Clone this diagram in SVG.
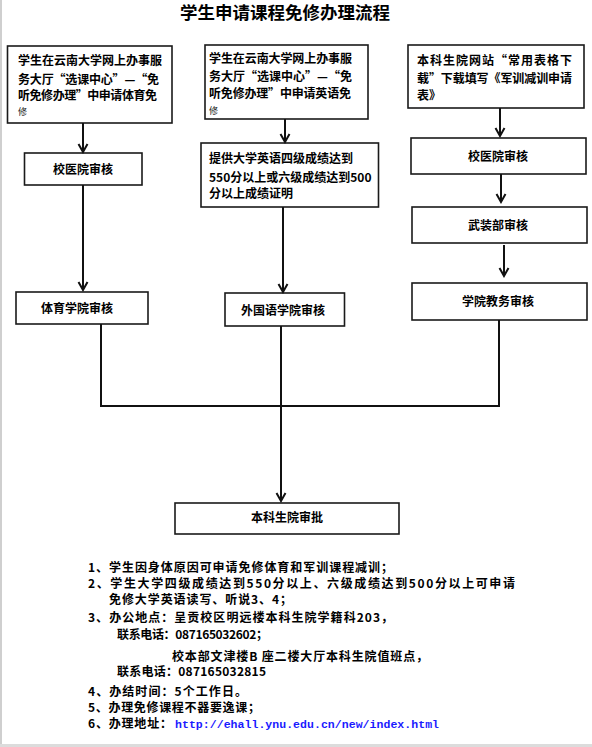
<svg xmlns="http://www.w3.org/2000/svg" width="592" height="747" viewBox="0 0 592 747">
<defs>
<marker id="arr" markerUnits="userSpaceOnUse" markerWidth="12" markerHeight="12" refX="10" refY="6" orient="auto" viewBox="0 0 12 12">
<path d="M2,1.5 L10,6 L2,10.5" fill="none" stroke="#111" stroke-width="2"/>
</marker>
<style>
.box{fill:#fff;stroke:#1a1a1a;stroke-width:1.6}
.t{font-family:"Noto Sans CJK SC","Microsoft YaHei",sans-serif;font-size:12px;font-weight:bold;fill:#000}
.c{text-anchor:middle}
.sm{font-family:"Noto Sans CJK SC",sans-serif;font-size:9px;fill:#222}
.ln{fill:none;stroke:#111;stroke-width:2}
.n{font-family:"Noto Sans CJK SC",sans-serif;font-size:12px;font-weight:bold;fill:#000}
.url{font-family:"Liberation Mono",monospace;font-size:11.5px;font-weight:bold;fill:#1a1aff}
</style>
</defs>
<rect x="0" y="0" width="592" height="747" fill="#fff"/>
<line x1="1" y1="0" x2="1" y2="744" stroke="#cfcfcf" stroke-width="2"/>
<rect x="0" y="744" width="592" height="3" fill="#dcdcdc"/>

<text x="285" y="19" text-anchor="middle" font-family="Noto Sans CJK SC, sans-serif" font-size="17.5" font-weight="bold">学生申请课程免修办理流程</text>

<g id="n1">
<rect class="box" x="7.5" y="46" width="164.5" height="77"/>
<text class="t" x="18" y="65" textLength="144" lengthAdjust="spacing">学生在云南大学网上办事服</text>
<text class="t" x="18" y="84" textLength="141" lengthAdjust="spacing">务大厅“选课中心”—“免</text>
<text class="t" x="18" y="100" textLength="139" lengthAdjust="spacing">听免修办理”中申请体育免</text>
<text class="sm" x="18" y="115">修</text>
</g>
<g id="n2">
<rect class="box" x="205" y="45" width="163" height="74"/>
<text class="t" x="209" y="63" textLength="143" lengthAdjust="spacing">学生在云南大学网上办事服</text>
<text class="t" x="209" y="81" textLength="143" lengthAdjust="spacing">务大厅“选课中心”—“免</text>
<text class="t" x="209" y="98" textLength="142" lengthAdjust="spacing">听免修办理”中申请英语免</text>
<text class="sm" x="209" y="114">修</text>
</g>
<g id="n3">
<rect class="box" x="408" y="45" width="176" height="63"/>
<text class="t" x="417" y="65" textLength="155" lengthAdjust="spacing">本科生院网站“常用表格下</text>
<text class="t" x="417" y="83" textLength="155" lengthAdjust="spacing">载”下载填写《军训减训申请</text>
<text class="t" x="417" y="100">表》</text>
</g>
<g id="n4">
<rect class="box" x="24.5" y="153" width="117.5" height="32"/>
<text class="t c" x="83" y="173.5">校医院审核</text>
</g>
<g id="n5">
<rect class="box" x="201" y="143" width="177.5" height="64"/>
<text class="t" x="209" y="162.5">提供大学英语四级成绩达到</text>
<text class="t" x="209" y="181.5">550分以上或六级成绩达到500</text>
<text class="t" x="209" y="197.5">分以上成绩证明</text>
</g>
<g id="n6">
<rect class="box" x="411" y="138" width="175" height="36"/>
<text class="t c" x="498" y="160.5">校医院审核</text>
</g>
<g id="n7">
<rect class="box" x="412" y="207" width="175" height="36"/>
<text class="t c" x="498" y="229.5">武装部审核</text>
</g>
<g id="n8">
<rect class="box" x="412" y="283" width="175" height="37"/>
<text class="t c" x="498" y="306">学院教务审核</text>
</g>
<g id="n9">
<rect class="box" x="16" y="292" width="132" height="32"/>
<text class="t c" x="77" y="312.5">体育学院审核</text>
</g>
<g id="n10">
<rect class="box" x="225" y="293" width="119.5" height="33"/>
<text class="t c" x="283" y="314.5">外国语学院审核</text>
</g>
<g id="n11">
<rect class="box" x="175" y="503" width="224" height="31"/>
<text class="t c" x="287" y="521.5">本科生院审批</text>
</g>

<g id="connectors">
<line class="ln" x1="83" y1="123" x2="83" y2="152" marker-end="url(#arr)"/>
<line class="ln" x1="285" y1="119" x2="285" y2="142" marker-end="url(#arr)"/>
<line class="ln" x1="500" y1="108" x2="500" y2="136" marker-end="url(#arr)"/>
<line class="ln" x1="83" y1="185" x2="83" y2="290" marker-end="url(#arr)"/>
<line class="ln" x1="283" y1="207" x2="283" y2="292" marker-end="url(#arr)"/>
<line class="ln" x1="501" y1="174" x2="501" y2="202" marker-end="url(#arr)"/>
<line class="ln" x1="504" y1="245" x2="504" y2="276" marker-end="url(#arr)"/>
<polyline class="ln" points="101,324 101,406 499,406 499,320" stroke-width="2.4"/>
<line class="ln" x1="281" y1="326" x2="281" y2="501" stroke-width="2.2" marker-end="url(#arr)"/>
</g>

<g id="notes">
<text class="n" x="88" y="572" textLength="305" lengthAdjust="spacing">1、学生因身体原因可申请免修体育和军训课程减训；</text>
<text class="n" x="88" y="588" textLength="427" lengthAdjust="spacing">2、学生大学四级成绩达到550分以上、六级成绩达到500分以上可申请</text>
<text class="n" x="109" y="604" textLength="183" lengthAdjust="spacing">免修大学英语读写、听说3、4；</text>
<text class="n" x="88" y="622" textLength="305" lengthAdjust="spacing">3、办公地点：呈贡校区明远楼本科生院学籍科203，</text>
<text class="n" x="117" y="639" textLength="151" lengthAdjust="spacing">联系电话：087165032602；</text>
<text class="n" x="172" y="661" textLength="256" lengthAdjust="spacing">校本部文津楼B 座二楼大厅本科生院值班点，</text>
<text class="n" x="117" y="676" textLength="149" lengthAdjust="spacing">联系电话：087165032815</text>
<text class="n" x="88" y="695.5" font-size="13" textLength="159" lengthAdjust="spacing">4、办结时间：5个工作日。</text>
<text class="n" x="88" y="712" font-size="11.3" textLength="172" lengthAdjust="spacing">5、办理免修课程不器要逸课；</text>
<text class="n" x="88" y="728" font-size="11.3" textLength="84" lengthAdjust="spacing">6、办理地址：</text>
<text class="url" x="175" y="728" textLength="264" lengthAdjust="spacing">http://ehall.ynu.edu.cn/new/index.html</text>
</g>
</svg>
